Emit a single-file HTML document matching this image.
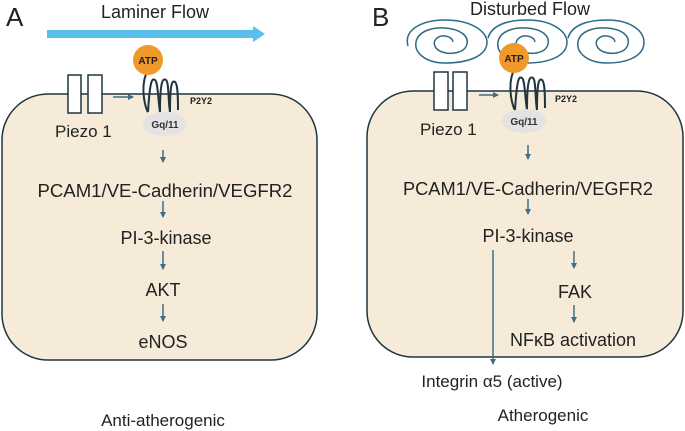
<!DOCTYPE html>
<html><head><style>
html,body{margin:0;padding:0;background:#fff;}
svg{display:block;font-family:"Liberation Sans",sans-serif;}
</style></head><body>
<svg width="685" height="431" viewBox="0 0 685 431" xmlns="http://www.w3.org/2000/svg">
<defs>
<marker id="ah" markerWidth="6" markerHeight="6" refX="5" refY="3" orient="auto" markerUnits="userSpaceOnUse"><path d="M0,0 L6,3 L0,6 z" fill="#3f6e86"/></marker>
</defs>
<!-- Panel A -->
<text x="6" y="26" font-size="26" fill="#222">A</text>
<text x="155" y="18" font-size="18" text-anchor="middle" fill="#222">Laminer Flow</text>
<rect x="47" y="30" width="208" height="8" fill="#5bbfee"/>
<polygon points="253,26 265,34 253,42" fill="#5bbfee"/>
<rect x="2" y="94" width="315" height="266" rx="46" fill="#f6ead8" stroke="#1f3540" stroke-width="1.5"/>
<rect x="68" y="75" width="13" height="38" fill="#fff" stroke="#1f3540" stroke-width="1.5"/>
<rect x="88" y="75" width="14" height="38" fill="#fff" stroke="#1f3540" stroke-width="1.5"/>
<text x="55" y="137" font-size="17" fill="#222">Piezo 1</text>
<line x1="113" y1="97" x2="133" y2="97" stroke="#3f6e86" stroke-width="1.5" marker-end="url(#ah)"/>
<g fill="none" stroke="#1f3540" stroke-width="2">
<path d="M146,74 C140,90 146,110 148,112 M148,112 C150,80 152,78 155,80 C158,82 158,100 160,112 M160,112 C160,80 163,78 166,80 C169,82 168,100 170,112 M170,112 C170,84 172,80 175,82 C178,84 178,100 178,110"/>
</g>
<circle cx="148" cy="60" r="15" fill="#f0982a"/>
<text x="148" y="64" font-size="10" font-weight="bold" text-anchor="middle" fill="#222">ATP</text>
<ellipse cx="165" cy="124" rx="22" ry="12" fill="#e3e3e3"/>
<text x="165" y="128" font-size="10" font-weight="bold" text-anchor="middle" fill="#333">Gq/11</text>
<text x="190" y="104" font-size="9" font-weight="bold" fill="#222">P2Y2</text>
<g stroke="#3f6e86" stroke-width="1.5" marker-end="url(#ah)">
<line x1="163" y1="150" x2="163" y2="162"/>
<line x1="163" y1="201" x2="163" y2="217"/>
<line x1="163" y1="251" x2="163" y2="269"/>
<line x1="163" y1="304" x2="163" y2="321"/>
</g>
<g font-size="18" text-anchor="middle" fill="#222">
<text x="165" y="197" textLength="255" lengthAdjust="spacingAndGlyphs">PCAM1/VE-Cadherin/VEGFR2</text>
<text x="166" y="244">PI-3-kinase</text>
<text x="163" y="296">AKT</text>
<text x="163" y="348">eNOS</text>
<text x="163" y="426" font-size="17">Anti-atherogenic</text>
</g>
<!-- Panel B -->
<text x="372" y="26" font-size="26" fill="#222">B</text>
<text x="530" y="15" font-size="18" text-anchor="middle" fill="#222">Disturbed Flow</text>
<g fill="none" stroke="#2c6a86" stroke-width="1.5">
<path d="M408,46 C403,28 425,20 445,20 C472,20 487,32 487,42 C487,57 466,63 445,63 C426,63 414,53 416,42 C418,31 433,27 445,28 C460,29 469,36 467,44 C465,53 451,55 442,52 C434,49 432,42 437,38 C442,34 452,36 453,42"/>
<path d="M488,38 C492,24 510,20 527,20 C553,20 567,32 567,42 C567,57 547,63 527,63 C508,63 496,53 498,42 C500,31 514,27 527,28 C542,29 550,36 548,44 C546,53 533,55 524,52 C516,49 514,42 519,38 C524,34 534,36 535,42"/>
<path d="M568,38 C572,24 590,20 607,20 C632,20 644,32 644,42 C644,57 626,63 607,63 C588,63 576,53 578,42 C580,31 594,27 607,28 C622,29 630,36 628,44 C626,53 613,55 604,52 C596,49 594,42 599,38 C604,34 614,36 615,42"/>
</g>
<rect x="367" y="91" width="316" height="266" rx="46" fill="#f6ead8" stroke="#1f3540" stroke-width="1.5"/>
<rect x="434" y="72" width="14" height="38" fill="#fff" stroke="#1f3540" stroke-width="1.5"/>
<rect x="453" y="72" width="14" height="38" fill="#fff" stroke="#1f3540" stroke-width="1.5"/>
<text x="420" y="135" font-size="17" fill="#222">Piezo 1</text>
<line x1="479" y1="95" x2="498" y2="95" stroke="#3f6e86" stroke-width="1.5" marker-end="url(#ah)"/>
<g fill="none" stroke="#1f3540" stroke-width="2">
<path d="M513,72 C507,88 513,108 515,110 M515,110 C517,78 519,76 522,78 C525,80 525,98 527,110 M527,110 C527,78 530,76 533,78 C536,80 535,98 537,110 M537,110 C537,82 539,78 542,80 C545,82 545,98 545,108"/>
</g>
<circle cx="514" cy="58" r="15" fill="#f0982a"/>
<text x="514" y="62" font-size="10" font-weight="bold" text-anchor="middle" fill="#222">ATP</text>
<ellipse cx="524" cy="121" rx="22" ry="12" fill="#e3e3e3"/>
<text x="524" y="125" font-size="10" font-weight="bold" text-anchor="middle" fill="#333">Gq/11</text>
<text x="555" y="102" font-size="9" font-weight="bold" fill="#222">P2Y2</text>
<g stroke="#3f6e86" stroke-width="1.5" marker-end="url(#ah)">
<line x1="528" y1="145" x2="528" y2="159"/>
<line x1="528" y1="199" x2="528" y2="214"/>
<line x1="574" y1="251" x2="574" y2="268"/>
<line x1="574" y1="305" x2="574" y2="322"/>
<line x1="493" y1="250" x2="493" y2="364"/>
</g>
<g font-size="18" text-anchor="middle" fill="#222">
<text x="528" y="195" textLength="250" lengthAdjust="spacingAndGlyphs">PCAM1/VE-Cadherin/VEGFR2</text>
<text x="528" y="242">PI-3-kinase</text>
<text x="575" y="298">FAK</text>
<text x="573" y="346">NFκB activation</text>
<text x="492" y="387" font-size="17">Integrin α5 (active)</text>
<text x="543" y="421" font-size="17">Atherogenic</text>
</g>
</svg>
</body></html>
